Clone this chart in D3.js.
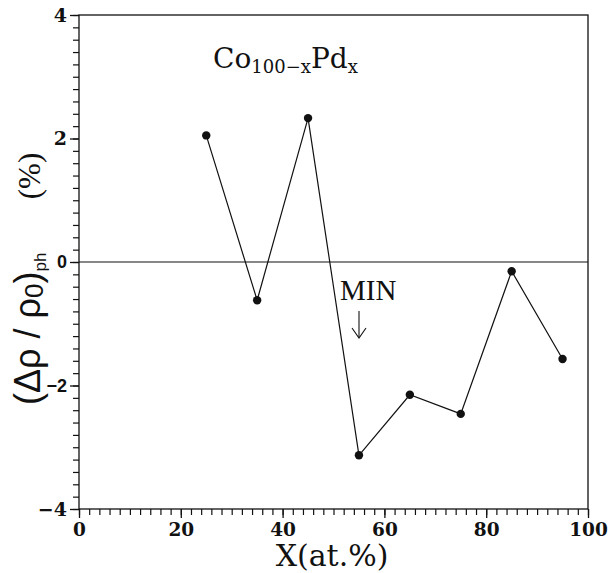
<!DOCTYPE html>
<html><head><meta charset="utf-8">
<script src="https://cdn.jsdelivr.net/npm/d3@7"></script>
<style>body{margin:0;background:#fff}svg{display:block}</style>
</head><body>
<svg id="c" width="614" height="573"></svg>
<script>
const xValues = [25, 35, 45, 55, 65, 75, 85, 95];
const yValues = [2.05, -0.62, 2.33, -3.13, -2.15, -2.46, -0.15, -1.57];
const xTicks = [0, 20, 40, 60, 80, 100];
const yTicks = [-4, -2, 0, 2, 4];

const svg = d3.select("#c");
const L = 79, R = 588, T = 15, B = 509;
const x = d3.scaleLinear().domain([0, 100]).range([L, R]);
const y = d3.scaleLinear().domain([-4, 4]).range([B, T]);
const ink = "#111";

// frame
svg.append("rect").attr("x", L).attr("y", T).attr("width", R - L).attr("height", B - T)
  .attr("fill", "none").attr("stroke", ink).attr("stroke-width", 1.3);

// x axis
const xa = svg.append("g").attr("transform", `translate(0,${B})`)
  .call(d3.axisBottom(x).tickValues(d3.range(0, 101, 2)).tickSize(6).tickFormat(""));
xa.select(".domain").remove();
xa.selectAll("line").attr("stroke", ink).attr("stroke-width", 1.2);
const xb = svg.append("g").attr("transform", `translate(0,${B})`)
  .call(d3.axisBottom(x).tickValues(xTicks).tickSize(9).tickPadding(5).tickFormat(d3.format("d")));
xb.select(".domain").remove();
xb.selectAll("line").attr("stroke", ink).attr("stroke-width", 1.3);
xb.selectAll("text").attr("font-family", "DejaVu Serif").attr("font-weight", "bold")
  .attr("font-size", 18.5).attr("fill", ink);

// y axis
const ya = svg.append("g").attr("transform", `translate(${L},0)`)
  .call(d3.axisLeft(y).tickValues(d3.range(-40, 41, 2).map(v => v / 10)).tickSize(6).tickFormat(""));
ya.select(".domain").remove();
ya.selectAll("line").attr("stroke", ink).attr("stroke-width", 1.2);
const yb = svg.append("g").attr("transform", `translate(${L},0)`)
  .call(d3.axisLeft(y).tickValues(yTicks).tickSize(9).tickPadding(3)
    .tickFormat(d => d < 0 ? "\u2212" + Math.abs(d) : String(d)));
yb.select(".domain").remove();
yb.selectAll("line").attr("stroke", ink).attr("stroke-width", 1.3);
yb.selectAll("text").attr("fill", ink)
  .attr("font-family", d => (d === 0 || d === -2) ? "Liberation Sans" : "DejaVu Serif")
  .attr("font-weight", "bold")
  .attr("font-size", d => (d === 0 || d === -2) ? 18 : 19);

// zero line
svg.append("line").attr("x1", L).attr("x2", R).attr("y1", y(0)).attr("y2", y(0))
  .attr("stroke", ink).attr("stroke-width", 1.2);

// data line and points
const pts = xValues.map((v, i) => [v, yValues[i]]);
svg.append("path").datum(pts)
  .attr("d", d3.line().x(d => x(d[0])).y(d => y(d[1])))
  .attr("fill", "none").attr("stroke", ink).attr("stroke-width", 1.2);
svg.selectAll("circle.pt").data(pts).enter().append("circle")
  .attr("cx", d => x(d[0])).attr("cy", d => y(d[1])).attr("r", 4.2).attr("fill", ink);

// title
const title = svg.append("text").attr("x", 213).attr("y", 68)
  .attr("font-family", "DejaVu Serif").attr("font-size", 28).attr("fill", ink);
title.append("tspan").text("Co");
title.append("tspan").attr("font-size", 18).attr("dy", 5).text("100\u2212x");
title.append("tspan").attr("dy", -5).text("Pd");
title.append("tspan").attr("font-size", 18).attr("dy", 5).text("x");

// MIN annotation
svg.append("text").attr("x", 340).attr("y", 300)
  .attr("font-family", "Liberation Serif").attr("font-size", 29).attr("fill", ink).text("MIN");
svg.append("line").attr("x1", 359).attr("x2", 359).attr("y1", 311).attr("y2", 337)
  .attr("stroke", ink).attr("stroke-width", 1.1);
svg.append("path").attr("d", "M352,328 L359,338 L366,328").attr("fill", "none")
  .attr("stroke", ink).attr("stroke-width", 1.1);

// x label
svg.append("text").attr("x", 332).attr("y", 566).attr("text-anchor", "middle")
  .attr("font-family", "DejaVu Serif").attr("font-size", 30).attr("fill", ink).text("X(at.%)");

// y label
const yl = svg.append("text").attr("transform", "translate(40,405) rotate(-90)")
  .attr("font-family", "Liberation Sans").attr("font-size", 36).attr("fill", ink);
yl.append("tspan").text("(\u0394\u03C1 / \u03C1");
yl.append("tspan").attr("font-size", 26).attr("dy", 3).text("0");
yl.append("tspan").attr("dy", -3).text(")");
yl.append("tspan").attr("font-size", 17).attr("dy", 6).text("ph");
svg.append("text").attr("transform", "translate(40,176) rotate(-90)").attr("text-anchor", "middle")
  .attr("font-family", "Liberation Serif").attr("font-size", 31).attr("fill", ink).text("(%)");
</script>
</body></html>
